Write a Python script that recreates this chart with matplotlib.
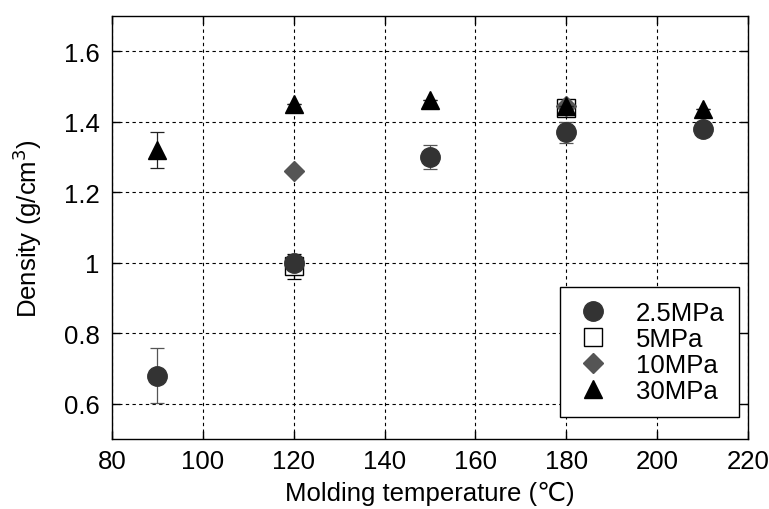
import matplotlib
matplotlib.use("Agg")
import matplotlib.pyplot as plt
from matplotlib.lines import Line2D

plt.rcParams['font.family'] = ['Liberation Sans', 'DejaVu Sans']

# Data
x_25 = [90, 120, 150, 180, 210]
y_25 = [0.68, 1.00, 1.30, 1.37, 1.38]
e_25 = [0.078, 0.02, 0.035, 0.03, 0.0]

x_5 = [120, 180]
y_5 = [0.99, 1.44]
e_5 = [0.035, 0.02]

x_10 = [120, 180]
y_10 = [1.26, 1.445]

x_30 = [90, 120, 150, 180, 210]
y_30 = [1.32, 1.45, 1.46, 1.445, 1.435]
e_30 = [0.05, 0.0, 0.0, 0.0, 0.0]

series_labels = ['2.5MPa', '5MPa', '10MPa', '30MPa']
xticks = [80, 100, 120, 140, 160, 180, 200, 220]
yticks = [0.6, 0.8, 1.0, 1.2, 1.4, 1.6]
yticklabels = ['0.6', '0.8', '1', '1.2', '1.4', '1.6']

fig = plt.figure(figsize=(7.69, 5.10), dpi=100)
ax = fig.add_axes([0.1456, 0.137, 0.8271, 0.830])

ecol = '#555555'
fs = 18.5

styles = {
    '2.5MPa': dict(marker='o', ms=14, mfc='#333333', mec='#333333', mew=1.0),
    '5MPa': dict(marker='s', ms=13, mfc='white', mec='black', mew=1.0),
    '10MPa': dict(marker='D', ms=10, mfc='#555555', mec='#555555', mew=1.0),
    '30MPa': dict(marker='^', ms=13, mfc='black', mec='black', mew=1.0),
}

ax.errorbar(x_5, y_5, yerr=e_5, fmt='none', ecolor='black', elinewidth=0.9,
            capsize=5, capthick=0.9, zorder=2.9)
ax.plot(x_5, y_5, ls='none', zorder=3, **styles['5MPa'])
ax.plot(x_10, y_10, ls='none', zorder=4, **styles['10MPa'])
ax.errorbar(x_25, y_25, yerr=e_25, fmt='none', ecolor=ecol, elinewidth=0.9,
            capsize=5, capthick=0.9, zorder=4.5)
ax.plot(x_25, y_25, ls='none', zorder=5, **styles['2.5MPa'])
ax.errorbar(x_30, y_30, yerr=e_30, fmt='none', ecolor='#222222', elinewidth=0.9,
            capsize=5, capthick=0.9, zorder=5.5)
ax.plot(x_30, y_30, ls='none', zorder=6, **styles['30MPa'])

ax.set_xlim(80, 220)
ax.set_ylim(0.5, 1.7)
ax.set_xticks(xticks)
ax.set_xticklabels([str(t) for t in xticks])
ax.set_yticks(yticks)
ax.set_yticklabels(yticklabels)

ax.grid(True, color='black', linestyle=(0, (3, 3)), linewidth=0.8)
ax.set_axisbelow(True)
ax.tick_params(direction='in', length=6, width=1, labelsize=fs, colors='black',
               top=True, right=True)
ax.tick_params(axis='x', pad=7)
ax.tick_params(axis='y', pad=9)
for s in ax.spines.values():
    s.set_linewidth(1.0)
    s.set_color('black')

ax.set_xlabel('Molding temperature (\u2103)', fontsize=fs, labelpad=6)
ax.set_ylabel('Density (g/cm$^3$)', fontsize=fs, labelpad=14)

handles = [Line2D([], [], ls='none', **styles[l]) for l in series_labels]
leg = ax.legend(handles, series_labels,
                loc='lower right', bbox_to_anchor=(0.986, 0.052), borderaxespad=0,
                fontsize=fs, frameon=True, fancybox=False, edgecolor='black',
                framealpha=1, handlelength=1.4, handletextpad=1.0, labelspacing=0.08,
                borderpad=0.55)
leg.get_frame().set_linewidth(1.0)

fig.savefig('out.png', dpi=100)
